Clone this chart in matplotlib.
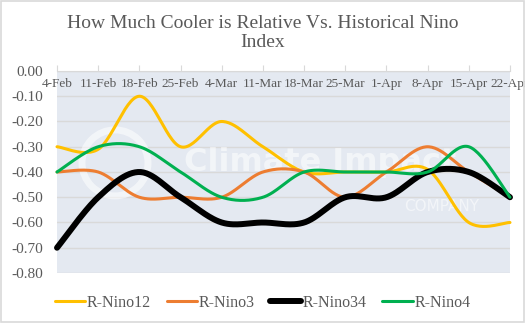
import numpy as np
import matplotlib.pyplot as plt
from matplotlib.patches import Ellipse

dates = ['4-Feb', '11-Feb', '18-Feb', '25-Feb', '4-Mar', '11-Mar',
         '18-Mar', '25-Mar', '1-Apr', '8-Apr', '15-Apr', '22-Apr']
nino12 = [-0.30, -0.31, -0.10, -0.30, -0.20, -0.30, -0.40, -0.40, -0.40, -0.39, -0.60, -0.60]
nino3 = [-0.40, -0.40, -0.50, -0.50, -0.50, -0.40, -0.40, -0.50, -0.40, -0.30, -0.40, -0.50]
nino34 = [-0.70, -0.50, -0.40, -0.50, -0.60, -0.60, -0.60, -0.50, -0.50, -0.40, -0.40, -0.50]
nino4 = [-0.40, -0.30, -0.30, -0.40, -0.50, -0.50, -0.40, -0.40, -0.40, -0.40, -0.30, -0.50]
yticks = [0.0, -0.1, -0.2, -0.3, -0.4, -0.5, -0.6, -0.7, -0.8]


def smooth(y, n=30):
    # excel style smoothed line (bezier through the points)
    y = np.asarray(y, dtype=float)
    x = np.arange(len(y), dtype=float)
    xs, ys = [], []
    for i in range(len(y) - 1):
        p0 = np.array([x[max(i - 1, 0)], y[max(i - 1, 0)]])
        p1 = np.array([x[i], y[i]])
        p2 = np.array([x[i + 1], y[i + 1]])
        p3 = np.array([x[min(i + 2, len(y) - 1)], y[min(i + 2, len(y) - 1)]])
        c1 = p1 + (p2 - p0) / 6
        c2 = p2 - (p3 - p1) / 6
        t = np.linspace(0, 1, n)[:, None]
        pts = ((1 - t) ** 3) * p1 + 3 * ((1 - t) ** 2) * t * c1 + 3 * (1 - t) * t ** 2 * c2 + t ** 3 * p2
        xs.extend(pts[:, 0])
        ys.extend(pts[:, 1])
    return np.array(xs), np.array(ys)


plt.rcParams['font.family'] = ['Liberation Serif', 'DejaVu Serif']
txt = '#595959'

fig = plt.figure(figsize=(5.25, 3.23), dpi=100)
fig.patches.append(plt.Rectangle((0.001, 0.002), 0.997, 0.995, transform=fig.transFigure,
                                 fill=False, edgecolor='#D9D9D9', lw=1.2))
ax = fig.add_axes([0.1086, 0.1548, 0.8628, 0.6254])
ax.set_facecolor('#E4E9F1')

ax.set_xlim(0, len(dates) - 1)
ax.set_ylim(-0.8, 0.0)
ax.set_yticks(yticks)
ax.set_yticklabels(['%.2f' % v for v in yticks], fontsize=11, color=txt)
ax.grid(axis='y', color='#D9D9D9', lw=1)
ax.set_axisbelow(True)
for s in ['left', 'right', 'bottom']:
    ax.spines[s].set_visible(False)
ax.spines['top'].set_color('#D9D9D9')
ax.tick_params(axis='y', length=0, pad=10)

ax.set_xticks(range(len(dates)))
ax.set_xticklabels(dates, fontsize=9.5, color=txt)
ax.tick_params(axis='x', top=True, labeltop=True, bottom=False, labelbottom=False,
               direction='out', length=4, color='#D9D9D9', pad=-18)
for lab in ax.get_xticklabels():
    lab.set_clip_on(False)

# watermark (behind the lines)
ax.text(0.58, 0.545, 'Climate Impact', transform=ax.transAxes, ha='center', va='center',
        fontsize=23, fontweight='bold', family='DejaVu Sans',
        color='white', alpha=0.55, zorder=1)
ax.text(0.85, 0.33, 'COMPANY', transform=ax.transAxes, ha='center', va='center',
        fontsize=11, family='DejaVu Sans', color='white', alpha=0.55, zorder=1)
ax.add_patch(Ellipse((0.128, 0.545), 66 / 453, 66 / 202, transform=ax.transAxes, fill=False,
                     edgecolor='white', lw=5, alpha=0.55, zorder=1))

series = [('R-Nino12', nino12, '#FFC000', 2.2),
          ('R-Nino3', nino3, '#ED7D31', 2.2),
          ('R-Nino34', nino34, '#000000', 4.3),
          ('R-Nino4', nino4, '#00B050', 2.2)]
for name, vals, col, lw in series:
    xs, ys = smooth(vals)
    ax.plot(xs, ys, color=col, lw=lw, label=name, solid_capstyle='round', clip_on=False, zorder=3)

fig.text(0.5, 0.898, 'How Much Cooler is Relative Vs. Historical Nino\nIndex', ha='center',
         va='center', fontsize=14, color=txt, linespacing=1.1)
leg = fig.legend(loc='center', bbox_to_anchor=(0.5, 0.062), ncol=4, frameon=False,
                 fontsize=11.5, handlelength=1.9, handletextpad=0.1, columnspacing=1.0)
for t in leg.get_texts():
    t.set_color(txt)

fig.savefig('out.png', dpi=100)
